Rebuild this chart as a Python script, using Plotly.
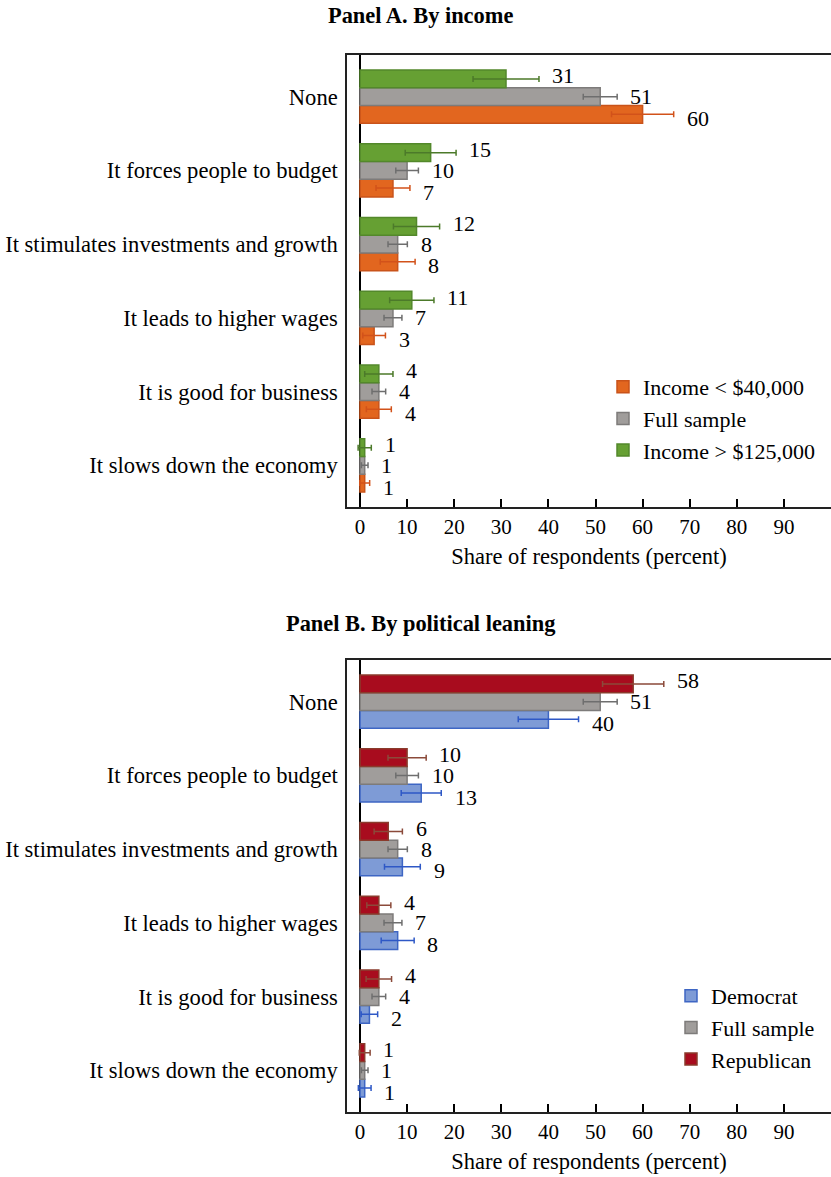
import plotly.graph_objects as go

# Reasons respondents give for why taxes are good (share answering, percent)
categories = [
    "None",
    "It forces people to budget",
    "It stimulates investments and growth",
    "It leads to higher wages",
    "It is good for business",
    "It slows down the economy",
]

# Panel A: by income
income_low = [60, 7, 8, 3, 4, 1]
income_low_err = [6.6, 3.6, 3.7, 2.4, 2.65, 1.05]
full_sample = [51, 10, 8, 7, 4, 1]
full_sample_err = [3.6, 2.4, 2.05, 1.9, 1.45, 0.7]
income_high = [31, 15, 12, 11, 4, 1]
income_high_err = [7.0, 5.4, 4.9, 4.7, 3.0, 1.4]

# Panel B: by political leaning
democrat = [40, 13, 9, 8, 2, 1]
democrat_err = [6.4, 4.25, 3.8, 3.5, 1.75, 1.35]
republican = [58, 10, 6, 4, 4, 1]
republican_err = [6.5, 4.05, 3.0, 2.55, 2.7, 1.15]

x_ticks = [0, 10, 20, 30, 40, 50, 60, 70, 80, 90]

FONT = "Liberation Serif, Times New Roman, serif"
W, H = 831, 1177
M_L, M_R, M_T, M_B = 347, 0, 55, 65
BARGAP = 0.28
N_SERIES = 3
BAR_W = (1 - BARGAP) / N_SERIES

# category positions: first category at the top
pos = list(range(len(categories) - 1, -1, -1))

STYLE = {
    "low": dict(fill="#E2661F", edge="#C9531A", err="#D2521A"),
    "full": dict(fill="#A09D9B", edge="#7D7B7A", err="#6E6E6E"),
    "high": dict(fill="#66A033", edge="#53882B", err="#4C7A2A"),
    "dem": dict(fill="#7E9BD6", edge="#3E66C4", err="#2E58C6"),
    "rep": dict(fill="#A80C1E", edge="#8A3B2C", err="#8B4A3A"),
}

panels = [
    dict(
        xa="x", ya="y", legend="legend",
        series=[
            ("Income < $40,000", income_low, income_low_err, "low"),
            ("Full sample", full_sample, full_sample_err, "full"),
            ("Income > $125,000", income_high, income_high_err, "high"),
        ],
    ),
    dict(
        xa="x2", ya="y2", legend="legend2",
        series=[
            ("Democrat", democrat, democrat_err, "dem"),
            ("Full sample", full_sample, full_sample_err, "full"),
            ("Republican", republican, republican_err, "rep"),
        ],
    ),
]

fig = go.Figure()
annotations = []
label_shift = [-4, 0, 3]

for p in panels:
    for k, (name, vals, errs, key) in enumerate(p["series"]):
        st = STYLE[key]
        fig.add_trace(go.Bar(
            orientation="h",
            x=vals,
            y=pos,
            name=name,
            xaxis=p["xa"],
            yaxis=p["ya"],
            legend=p["legend"],
            marker=dict(color=st["fill"], line=dict(color=st["edge"], width=1.5)),
            error_x=dict(type="data", array=errs, color=st["err"],
                         thickness=1.5, width=3),
        ))
        offset = (k - (N_SERIES - 1) / 2) * BAR_W
        for v, e, yp in zip(vals, errs, pos):
            annotations.append(dict(
                x=v + e + 2.4, y=yp + offset,
                xref=p["xa"], yref=p["ya"],
                text=str(v), showarrow=False,
                xanchor="left", yanchor="middle",
                yshift=label_shift[k],
                font=dict(family=FONT, size=22, color="black"),
            ))

plot_h = H - M_T - M_B


def paper_y(px):
    return (H - M_B - px) / plot_h


def paper_x(px):
    return (px - M_L) / (W - M_L - M_R)


for txt, ypx in [("<b>Panel A. By income</b>", 16),
                 ("<b>Panel B. By political leaning</b>", 623)]:
    annotations.append(dict(
        x=paper_x(420), y=paper_y(ypx), xref="paper", yref="paper",
        text=txt, showarrow=False, xanchor="center", yanchor="middle",
        font=dict(family=FONT, size=22.4, color="black"),
    ))

axis_common_x = dict(
    range=[-2.76, 100],
    tickvals=x_ticks,
    ticks="inside", ticklen=8, tickwidth=1.5, tickcolor="black",
    showline=True, linecolor="#222", linewidth=1.5, mirror=True,
    zeroline=True, zerolinecolor="black", zerolinewidth=1.5,
    showgrid=False,
    tickfont=dict(family=FONT, size=21, color="black"),
    automargin=False,
)
axis_common_y = dict(
    range=[-0.565, 5.565],
    tickvals=pos, ticktext=categories,
    ticks="", showline=True, linecolor="#222", linewidth=1.5, mirror=False,
    zeroline=False, showgrid=False,
    ticklabelstandoff=3,
    tickfont=dict(family=FONT, size=22.6, color="black"),
    automargin=False,
)

x_title = dict(text="Share of respondents (percent)", standoff=10,
               font=dict(family=FONT, size=22.5))

fig.update_layout(
    width=W, height=H,
    margin=dict(l=M_L, r=M_R, t=M_T, b=M_B),
    paper_bgcolor="white", plot_bgcolor="white",
    barmode="group", bargap=BARGAP, bargroupgap=0,
    font=dict(family=FONT, size=22, color="black"),
    xaxis=dict(axis_common_x, anchor="y", domain=[0, 1], title=x_title),
    yaxis=dict(axis_common_y, anchor="x", domain=[paper_y(507), 1]),
    xaxis2=dict(axis_common_x, anchor="y2", domain=[0, 1], title=x_title),
    yaxis2=dict(axis_common_y, anchor="x2", domain=[0, paper_y(660)]),
    legend=dict(x=paper_x(603), y=paper_y(366), xanchor="left", yanchor="top",
                bgcolor="rgba(0,0,0,0)", font=dict(family=FONT, size=22)),
    legend2=dict(x=paper_x(671), y=paper_y(975), xanchor="left", yanchor="top",
                 bgcolor="rgba(0,0,0,0)", font=dict(family=FONT, size=22)),
    annotations=annotations,
    showlegend=True,
)

fig.write_html("out.html")
